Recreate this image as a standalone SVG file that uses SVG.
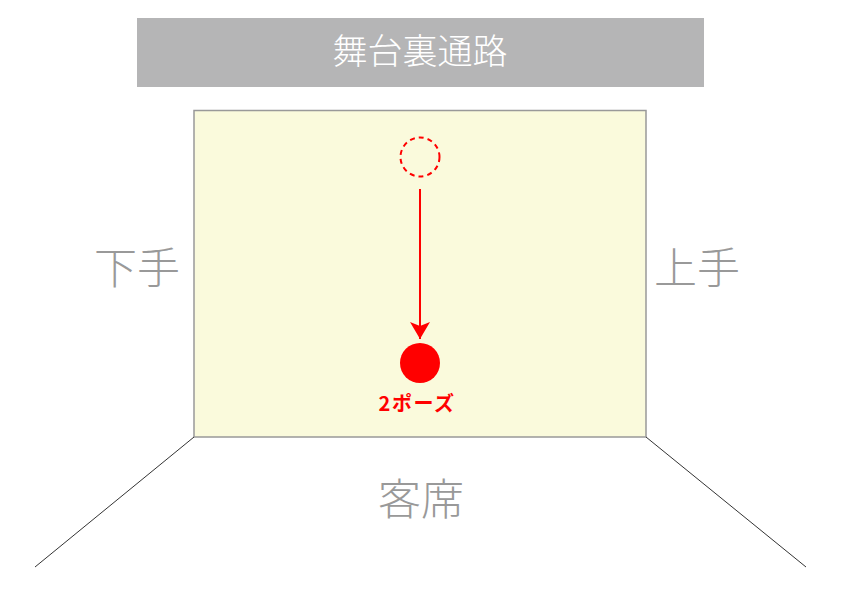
<svg xmlns="http://www.w3.org/2000/svg" width="842" height="595" viewBox="0 0 842 595">
<defs>
<style>
.lbl{font-family:"Noto Sans CJK JP","Noto Sans CJK SC",sans-serif;font-weight:300;fill:#999999;text-anchor:middle}
</style>
<marker id="ah" markerWidth="18" markerHeight="20" refX="17" refY="10" orient="auto" markerUnits="userSpaceOnUse">
<path d="M0,0 L17,10 L0,20 L4,10 Z" fill="#ff0000"/>
</marker>
</defs>
<rect width="842" height="595" fill="#ffffff"/>
<g id="backstage">
<rect x="137" y="18" width="567" height="69" fill="#b5b5b6"/>
<text x="420" y="64" font-family="Noto Sans CJK JP, sans-serif" font-weight="300" font-size="35" fill="#ffffff" text-anchor="middle">舞台裏通路</text>
</g>
<g id="stage">
<rect x="194" y="110.5" width="452" height="326.5" fill="#fafadc" stroke="#999999" stroke-width="1.5"/>
</g>
<g id="shimote"><text class="lbl" x="137" y="284" font-size="43">下手</text></g>
<g id="kamite"><text class="lbl" x="697" y="284" font-size="43">上手</text></g>
<g id="audience"><text class="lbl" x="421" y="515" font-size="43">客席</text></g>
<g id="start"><circle cx="420" cy="157" r="19.5" fill="none" stroke="#ff0000" stroke-width="2" stroke-dasharray="5,4"/></g>
<g id="pose2">
<circle cx="420" cy="363" r="20" fill="#ff0000"/>
<text x="417" y="411" font-family="Noto Sans CJK JP, sans-serif" font-weight="700" font-size="20" letter-spacing="1.5" fill="#ff0000" text-anchor="middle">2ポーズ</text>
</g>
<g id="connectors">
<line x1="420" y1="189" x2="420" y2="339" stroke="#ff0000" stroke-width="2" marker-end="url(#ah)"/>
<line x1="194" y1="437" x2="35" y2="567" stroke="#333333" stroke-width="1"/>
<line x1="646" y1="437" x2="806" y2="567" stroke="#333333" stroke-width="1"/>
</g>
</svg>
